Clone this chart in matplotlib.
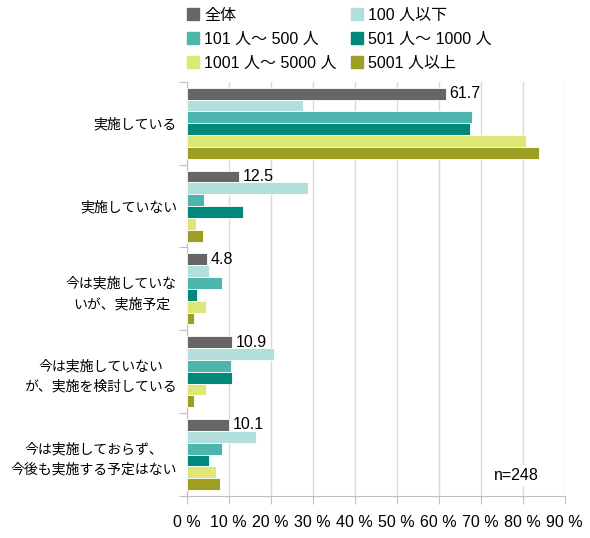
import numpy as np
import matplotlib
matplotlib.use("Agg")
from matplotlib import pyplot as plt
from matplotlib.lines import Line2D

plt.rcParams['font.family'] = ['Liberation Sans', 'Noto Sans CJK JP', 'DejaVu Sans']

categories = ['実施している', '実施していない', '今は実施していな\nいが、実施予定',
              '今は実施していない\nが、実施を検討している', '今は実施しておらず、\n今後も実施する予定はない']
series = ['全体', '100 人以下', '101 人～ 500 人', '501 人～ 1000 人', '1001 人～ 5000 人', '5001 人以上']
colors = ['#666666', '#b2dfdb', '#4db6ac', '#00897b', '#dce775', '#9e9d24']

all_total = [61.7, 12.5, 4.8, 10.9, 10.1]
le100 = [27.6, 29.0, 5.4, 20.7, 16.5]
s101_500 = [67.9, 4.1, 8.3, 10.5, 8.3]
s501_1000 = [67.4, 13.3, 2.5, 10.7, 5.2]
s1001_5000 = [80.8, 2.2, 4.6, 4.6, 7.1]
ge5001 = [83.8, 3.9, 1.8, 1.8, 7.9]
values = [all_total, le100, s101_500, s501_1000, s1001_5000, ge5001]

fig = plt.figure(figsize=(5.9, 5.38), dpi=100)
ax = fig.add_axes([0.3164, 0.078, 0.6406, 0.7700])

n_s = len(series)
bh = 0.143
y0 = np.arange(len(categories))
for j, (vals, c) in enumerate(zip(values, colors)):
    ys = y0 - bh * n_s / 2 + (j + 0.5) * bh
    ax.barh(ys, vals, height=bh, color=c, edgecolor='white', linewidth=0.6, zorder=3)
    if j == 0:
        for y, v in zip(ys, vals):
            ax.text(v + 0.8, y, f'{v:.1f}', va='center', ha='left', fontsize=11.5, zorder=4)

ax.set_xlim(0, 90)
ax.set_ylim(len(categories) - 0.5, -0.5)
ax.set_xticks(np.arange(0, 91, 10))
ax.set_xticklabels([f'{x} %' for x in range(0, 91, 10)], fontsize=11.5)
ax.set_yticks(np.arange(-0.5, len(categories), 1.0))
ax.set_yticklabels([])
ax.set_yticks(y0, minor=True)
ax.set_yticklabels(categories, minor=True, fontsize=10, ha='right', multialignment='center',
                   linespacing=1.6)
ax.tick_params(axis='y', which='minor', length=0, pad=7)
ax.tick_params(axis='y', which='major', length=6, color='#bfbfbf')
ax.tick_params(axis='x', length=6, color='#bfbfbf', pad=8)
ax.grid(axis='x', color='#d9d9d9', linewidth=1, zorder=0)
for s in ['top', 'right']:
    ax.spines[s].set_visible(False)
for s in ['left', 'bottom']:
    ax.spines[s].set_color('#bfbfbf')

ax.text(78.6, 4.25, 'n=248', fontsize=11.5, ha='center', va='center', zorder=4,
        bbox=dict(facecolor='white', edgecolor='none', pad=2))

handles = [Line2D([], [], marker='s', linestyle='none', markersize=8, color=c) for c in colors]
order = [0, 2, 4, 1, 3, 5]
fig.legend([handles[i] for i in order], [series[i] for i in order], ncol=2,
           loc='upper left', bbox_to_anchor=(0.289, 1.012), frameon=False, fontsize=11.5,
           handletextpad=0.2, columnspacing=0.8, labelspacing=0.55, handlelength=1.0)

fig.savefig('out.png', dpi=100)
